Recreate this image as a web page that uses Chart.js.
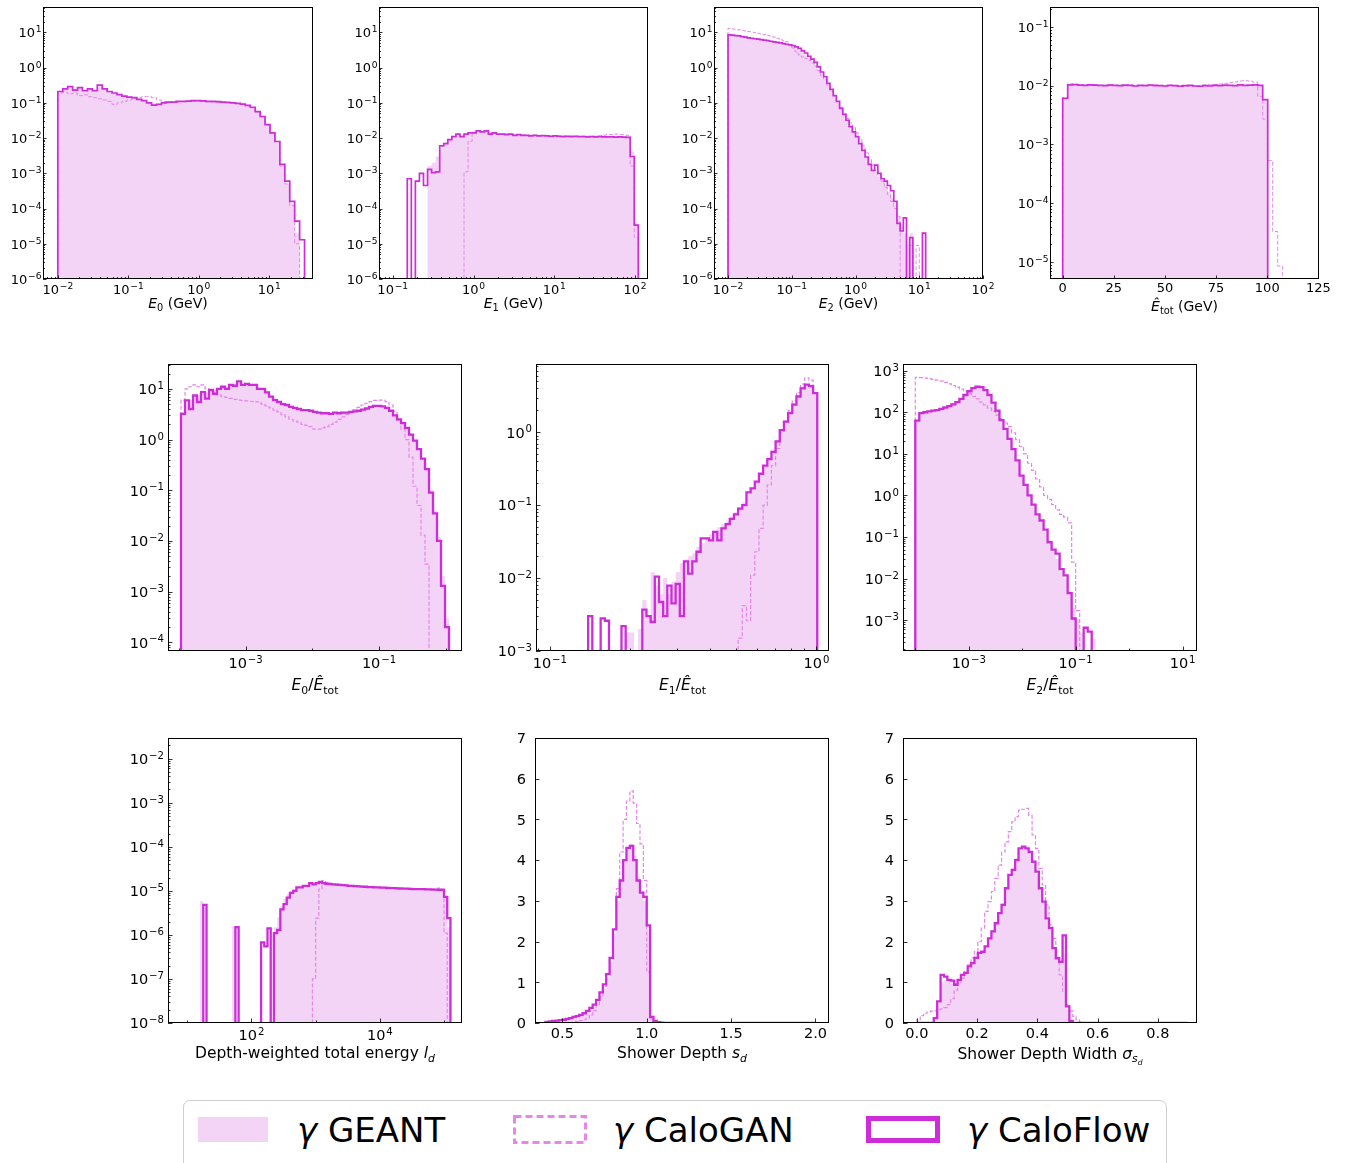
<!DOCTYPE html>
<html>
<head>
<meta charset="utf-8">
<title>Shower observables: GEANT, CaloGAN, CaloFlow</title>
<script src="https://cdn.jsdelivr.net/npm/chart.js@4.4.1/dist/chart.umd.min.js"></script>
<style>
  body { margin: 0; background: #fff; font-family: "DejaVu Sans", sans-serif; }
  #page { position: relative; width: 1351px; height: 1163px; overflow: hidden; background: #fff; }
  #page canvas { position: absolute; }
  .xlab { position: absolute; transform: translate(-50%, -50%); white-space: nowrap; color: #000; line-height: 1; }
  .xlab sub { font-size: 70%; vertical-align: -0.3em; line-height: 0; }
  #legend { position: absolute; left: 183px; top: 1100px; width: 982px; height: 80px;
            border: 1.5px solid #cfcfcf; border-radius: 7px; background: #fff; }
  #legend svg { position: absolute; }
  #legend .lt { position: absolute; top: 12px; font-size: 34px; line-height: 34px; white-space: nowrap; color: #000; }
</style>
</head>
<body>
<div id="page">
  <div id="legend">
    <svg style="left:13px;top:15px" width="72" height="27"><rect x="1" y="1" width="70" height="25" fill="#f4d4f6"/></svg>
    <div class="lt" style="left:113px"><i>γ</i> GEANT</div>
    <svg style="left:329px;top:14px" width="74" height="29"><rect x="1.5" y="1.5" width="71" height="26" fill="none" stroke="#e487e8" stroke-width="3" stroke-dasharray="7 4"/></svg>
    <div class="lt" style="left:429px"><i>γ</i> CaloGAN</div>
    <svg style="left:682px;top:15px" width="74" height="27"><rect x="2.5" y="2.5" width="69" height="22" fill="none" stroke="#cd2cd8" stroke-width="5"/></svg>
    <div class="lt" style="left:783px"><i>γ</i> CaloFlow</div>
  </div>
</div>
<script>
// ---- binning: [log10(lo) or lo, log10(hi) or hi, number of bins] ----
const e0Bins = [-2, 1.5, 50];
const e1Bins = [-0.82, 2.04, 57];
const e2Bins = [-2, 1.1, 62];
const etotBins = [0, 110, 45];
const e0rBins = [-3.97, 0.05, 67];
const e1rBins = [-0.997, 0.003, 64];
const e2rBins = [-4, -0.55, 46];
const idBins = [1.2, 5.1, 78];
const sdBins = [0.4, 2.0, 80];
const sigBins = [0, 0.9, 80];

// ---- E0 (GeV) ----
const e0Geant = [0.2, 0.24, 0.27, 0.25, 0.26, 0.24, 0.25, 0.23, 0.28, 0.24,
  0.21, 0.19, 0.175, 0.16, 0.15, 0.14, 0.13, 0.12, 0.105, 0.095,
  0.095, 0.1, 0.105, 0.107, 0.11, 0.11, 0.112, 0.114, 0.115, 0.112,
  0.11, 0.11, 0.107, 0.105, 0.102, 0.1, 0.096, 0.09, 0.083, 0.072,
  0.055, 0.04, 0.024, 0.013, 0.0075, 0.0019, 5e-4, 1.4e-4, 2e-5, 0];
const e0CaloGAN = [0.19, 0.2, 0.18, 0.19, 0.16, 0.17, 0.15, 0.14, 0.13, 0.12,
  0.11, 0.09, 0.1, 0.11, 0.12, 0.13, 0.14, 0.15, 0.15, 0.14,
  0.12, 0.11, 0.105, 0.105, 0.105, 0.11, 0.11, 0.11, 0.11, 0.108,
  0.106, 0.105, 0.104, 0.102, 0.1, 0.099, 0.095, 0.09, 0.083, 0.073,
  0.056, 0.04, 0.024, 0.014, 0.008, 0.0016, 5e-4, 1.2e-4, 1e-5, 0];
const e0CaloFlow = [0.21, 0.25, 0.29, 0.23, 0.27, 0.22, 0.25, 0.22, 0.32, 0.25,
  0.21, 0.19, 0.17, 0.155, 0.145, 0.14, 0.125, 0.115, 0.1, 0.086,
  0.09, 0.1, 0.105, 0.105, 0.11, 0.11, 0.112, 0.115, 0.115, 0.113,
  0.11, 0.11, 0.108, 0.105, 0.103, 0.1, 0.097, 0.092, 0.085, 0.075,
  0.056, 0.041, 0.024, 0.014, 0.008, 0.0018, 6e-4, 1.6e-4, 4.4e-5, 1.3e-5];

// ---- E1 (GeV) ----
const e1Geant = [0, 0, 0, 0, 0, 1.6e-3, 2e-3, 3e-3, 5e-3, 7.5e-3,
  9.5e-3, 0.011, 0.012, 0.012, 0.013, 0.014, 0.015, 0.015, 0.015, 0.015,
  0.014, 0.014, 0.0135, 0.013, 0.013, 0.0128, 0.0125, 0.0123, 0.012, 0.012,
  0.0118, 0.0118, 0.0116, 0.0115, 0.0115, 0.0113, 0.0113, 0.0112, 0.0111, 0.0111,
  0.011, 0.011, 0.011, 0.0109, 0.0109, 0.0108, 0.0108, 0.0108, 0.0108, 0.0107,
  0.0107, 0.0107, 0.011, 0.0112, 0.011, 4e-3, 4e-5];
const e1CaloGAN = [0, 0, 0, 0, 0, 0, 0, 0, 0, 0,
  0, 0, 0, 0, 1.1e-3, 8e-3, 0.014, 0.015, 0.016, 0.015,
  0.014, 0.0135, 0.013, 0.013, 0.013, 0.0128, 0.0125, 0.0125, 0.0123, 0.0122,
  0.012, 0.012, 0.0118, 0.0118, 0.0117, 0.0116, 0.0116, 0.0115, 0.0115, 0.0114,
  0.0114, 0.0113, 0.0113, 0.0113, 0.0112, 0.0112, 0.0113, 0.0115, 0.012, 0.0125,
  0.0125, 0.013, 0.0125, 0.0125, 0.012, 1.6e-3, 1.5e-5];
const e1CaloFlow = [7e-4, 0, 6e-4, 1e-3, 4.5e-4, 1.3e-3, 1.05e-3, 1.1e-3, 6e-3, 7e-3,
  9e-3, 0.011, 0.013, 0.011, 0.013, 0.014, 0.014, 0.016, 0.015, 0.016,
  0.013, 0.014, 0.013, 0.013, 0.0125, 0.013, 0.012, 0.0125, 0.012, 0.012,
  0.0115, 0.012, 0.0115, 0.0118, 0.0115, 0.0112, 0.0115, 0.0112, 0.011, 0.0112,
  0.011, 0.0112, 0.011, 0.011, 0.0108, 0.011, 0.0108, 0.011, 0.0108, 0.0108,
  0.0108, 0.0107, 0.0108, 0.0106, 0.0105, 3e-3, 3.4e-5];

// ---- E2 (GeV) ----
const e2Geant = [8.3, 8.2, 8.0, 7.8, 7.5, 7.2, 7.0, 6.8, 6.6, 6.4,
  6.2, 6.0, 5.8, 5.6, 5.4, 5.2, 5.0, 4.8, 4.5, 4.2,
  3.9, 3.5, 3.0, 2.6, 2.2, 1.8, 1.5, 1.2, 0.9, 0.65,
  0.48, 0.33, 0.22, 0.15, 0.1, 0.068, 0.046, 0.031, 0.021, 0.015,
  0.0105, 0.007, 0.0046, 0.003, 0.0019, 0.0013, 0.0011, 8e-4, 6e-4, 4.5e-4,
  3e-4, 2e-4, 1.2e-4, 6e-5, 3e-5, 2e-5, 1e-5, 2e-5, 0, 0, 0, 0];
const e2CaloGAN = [13, 12.6, 12.2, 11.8, 11.4, 11.0, 10.6, 10.2, 9.8, 9.4,
  9.0, 8.6, 8.2, 7.8, 7.3, 6.8, 6.3, 5.8, 5.4, 4.5,
  3.6, 2.8, 2.3, 2.0, 1.8, 1.6, 1.35, 1.1, 0.82, 0.6,
  0.45, 0.32, 0.23, 0.16, 0.11, 0.075, 0.05, 0.036, 0.027, 0.02,
  0.014, 0.0095, 0.006, 0.0038, 0.0025, 0.0017, 0.0012, 9e-4, 6e-4, 4e-4,
  2.5e-4, 1.6e-4, 1e-4, 6e-5, 0, 0, 0, 9e-6, 0, 9e-6, 0, 0];
const e2CaloFlow = [8.5, 8.3, 8.1, 7.9, 7.6, 7.3, 7.0, 6.8, 6.6, 6.4,
  6.2, 6.0, 5.8, 5.6, 5.4, 5.2, 5.0, 4.8, 4.6, 4.4,
  4.2, 3.9, 3.5, 3.0, 2.6, 2.1, 1.75, 1.4, 1.05, 0.75,
  0.55, 0.36, 0.24, 0.16, 0.11, 0.07, 0.047, 0.032, 0.021, 0.015,
  0.011, 0.007, 0.0045, 0.0029, 0.0018, 0.0012, 0.0017, 0.001, 7e-4, 6e-4,
  4.5e-4, 3.2e-4, 1.6e-4, 3.8e-5, 2.3e-5, 5.4e-5, 0, 1.5e-5, 0, 0, 0, 2e-5];

// ---- total energy (GeV) ----
const etotGeant = [6.0e-3, 0.0101, 0.0102, 0.0101, 0.0102, 0.0101, 0.01, 0.0102, 0.0101, 0.01,
  0.0102, 0.0101, 0.01, 0.0101, 0.0101, 0.01, 0.0102, 0.01, 0.0101, 0.0101,
  0.01, 0.01, 0.0101, 0.01, 0.0099, 0.01, 0.0101, 0.0099, 0.01, 0.0101,
  0.01, 0.0101, 0.0101, 0.01, 0.0102, 0.0101, 0.0101, 0.0102, 0.0101, 0.0101,
  5.9e-3, 0, 0, 0, 0];
const etotCaloGAN = [6.3e-3, 0.0108, 0.0106, 0.0104, 0.0103, 0.0102, 0.0104, 0.0101, 0.0102, 0.0103,
  0.0101, 0.0102, 0.01, 0.0103, 0.0101, 0.01, 0.0102, 0.0101, 0.0099, 0.0101,
  0.01, 0.0102, 0.0099, 0.0101, 0.0098, 0.0097, 0.0099, 0.0101, 0.0103, 0.0104,
  0.0105, 0.0107, 0.011, 0.0113, 0.0116, 0.012, 0.0122, 0.012, 0.0115,
  6.6e-3, 2.7e-3, 5.3e-4, 3.3e-5, 8.5e-6, 0];
const etotCaloFlow = [6.1e-3, 0.0103, 0.0104, 0.0102, 0.0101, 0.0103, 0.0102, 0.0101, 0.01, 0.0102,
  0.0101, 0.01, 0.0102, 0.0101, 0.0099, 0.0101, 0.01, 0.0102, 0.0101, 0.01,
  0.0099, 0.0101, 0.01, 0.0098, 0.01, 0.0101, 0.0099, 0.0098, 0.01, 0.0099,
  0.0101, 0.01, 0.0102, 0.0101, 0.01, 0.0103, 0.0101, 0.0102, 0.0103, 0.0101,
  5.8e-3, 0, 0, 0, 0];

// ---- E0 / Etot ----
const e0rGeant = [3.5, 5, 6, 7, 7.5, 8, 8.5, 9, 9.5, 10,
  11, 11, 12, 12, 13, 12.5, 12, 12, 11.5, 10.5,
  9.5, 8.5, 7.3, 6.3, 5.6, 5.1, 4.8, 4.4, 4.2, 4.0,
  3.8, 3.7, 3.6, 3.5, 3.4, 3.3, 3.3, 3.3, 3.3, 3.3,
  3.4, 3.4, 3.5, 3.6, 3.8, 3.9, 4.1, 4.3, 4.5, 4.6,
  4.5, 4.2, 3.7, 3.0, 2.5, 2.1, 1.7, 1.3, 0.95, 0.65,
  0.42, 0.26, 0.1, 0.04, 0.012, 2e-3, 3e-4];
const e0rCaloGAN = [6, 10, 11, 12, 11, 12, 10, 9.5, 8.5, 7.5,
  7, 6.8, 6.5, 6.2, 6, 5.9, 5.8, 5.7, 5.6, 5.5,
  5.0, 4.6, 4.2, 3.8, 3.5, 3.1, 2.8, 2.5, 2.3, 2.2,
  2.0, 1.9, 1.8, 1.6, 1.6, 1.7, 1.8, 2.0, 2.2, 2.5,
  2.8, 3.1, 3.5, 3.9, 4.3, 4.8, 5.2, 5.6, 5.9, 6.0,
  6.0, 5.6, 4.8, 3.6, 2.4, 1.6, 1.0, 0.45, 0.12, 0.05,
  0.013, 3.5e-3, 0, 0, 0, 0, 0];
const e0rCaloFlow = [3.2, 5.9, 4.0, 7.4, 5.5, 8.6, 6.4, 9.5, 8.0, 10,
  11, 10, 12, 11.5, 14, 12, 12.5, 12, 12, 10,
  10, 8.5, 7, 6, 5.5, 5, 4.8, 4.4, 4.2, 4.0,
  3.8, 3.8, 3.7, 3.5, 3.4, 3.3, 3.3, 3.2, 3.4, 3.3,
  3.4, 3.4, 3.5, 3.6, 3.7, 3.9, 4.1, 4.4, 4.6, 4.6,
  4.5, 4.2, 3.7, 3.0, 2.5, 2.1, 1.7, 1.25, 0.95, 0.65,
  0.42, 0.26, 0.09, 0.035, 0.01, 1.3e-3, 2e-4];

// ---- E1 / Etot ----
const e1rGeant = [0, 0, 0, 0, 0, 0, 0, 0, 0, 0,
  0, 0, 0, 0, 0, 0, 0, 0, 1.8e-3, 1.8e-3,
  0, 2e-3, 5e-3, 3e-3, 0.012, 0.008, 6e-3, 0.01, 6e-3, 9e-3,
  0.012, 0.016, 0.018, 0.02, 0.022, 0.027, 0.03, 0.035, 0.04, 0.045,
  0.05, 0.055, 0.06, 0.07, 0.08, 0.095, 0.11, 0.14, 0.17, 0.21,
  0.27, 0.35, 0.45, 0.58, 0.78, 1.08, 1.45, 1.9, 2.5, 3.2,
  4.0, 4.4, 4.4, 3.6];
const e1rCaloGAN = [0, 0, 0, 0, 0, 0, 0, 0, 0, 0,
  0, 0, 0, 0, 0, 0, 0, 0, 0, 0,
  0, 0, 0, 0, 0, 0, 0, 0, 0, 0,
  0, 0, 0, 0, 0, 0, 0, 0, 0, 0,
  0, 0, 0, 0, 0, 1.5e-3, 4.2e-3, 2.6e-3, 0.011, 0.023,
  0.048, 0.1, 0.19, 0.35, 0.6, 1.0, 1.4, 2.0, 2.7, 3.5,
  4.6, 5.6, 5.2, 3.5];
const e1rCaloFlow = [0, 0, 0, 0, 0, 0, 0, 0, 0, 3e-3,
  0, 0, 2.8e-3, 2.6e-3, 0, 0, 0, 2.2e-3, 0, 0,
  0, 0, 3.7e-3, 3e-3, 2.5e-3, 0.0105, 4.7e-3, 3e-3, 7.9e-3, 4.5e-3,
  8.3e-3, 3e-3, 0.017, 0.0115, 0.017, 0.023, 0.035, 0.035, 0.033, 0.043,
  0.033, 0.048, 0.055, 0.065, 0.075, 0.09, 0.1, 0.15, 0.17, 0.21,
  0.27, 0.35, 0.43, 0.54, 0.75, 1.07, 1.4, 1.83, 2.4, 3.1,
  4.0, 4.5, 4.3, 3.45];

// ---- E2 / Etot ----
const e2rGeant = [60, 90, 100, 105, 110, 115, 120, 130, 145, 160,
  180, 215, 265, 325, 385, 420, 410, 345, 255, 165,
  105, 62, 38, 22, 12.5, 6.5, 3.0, 1.7, 0.95, 0.55,
  0.33, 0.22, 0.13, 0.07, 0.045, 0.03, 0.015, 0.01, 5e-3, 2e-3,
  1e-3, 5e-4, 0, 0, 3.6e-4, 0];
const e2rCaloGAN = [690, 680, 660, 640, 620, 590, 560, 520, 480, 440,
  400, 360, 320, 280, 240, 210, 175, 150, 125, 105,
  85, 70, 55, 45, 32, 22, 15, 10, 6, 4,
  2.5, 1.6, 1.0, 0.8, 0.6, 0.45, 0.35, 0.3, 0.22, 0.025,
  1.7e-3, 0, 0, 0, 0, 0];
const e2rCaloFlow = [63, 95, 100, 105, 110, 112, 120, 130, 140, 155,
  175, 210, 260, 320, 380, 410, 400, 340, 260, 170,
  110, 65, 40, 23, 13, 7, 3.0, 1.8, 1.0, 0.6,
  0.35, 0.25, 0.15, 0.075, 0.05, 0.04, 0.017, 0.012, 4.5e-3, 1.1e-3,
  0, 0, 6.6e-4, 5.3e-4, 0, 0];

// ---- depth-weighted total energy ----
const idGeant = [5.9e-6, 0, 0, 0, 0, 0, 0, 0, 0, 0,
  1.6e-6, 0, 0, 0, 0, 0, 0, 0, 0, 0,
  0, 0, 0, 1.5e-6, 2.5e-6, 4.5e-6, 6.5e-6, 8.5e-6, 1.0e-5, 1.1e-5,
  1.2e-5, 1.25e-5, 1.3e-5, 1.35e-5, 1.4e-5, 1.45e-5, 1.5e-5, 1.5e-5, 1.45e-5, 1.45e-5,
  1.42e-5, 1.4e-5, 1.38e-5, 1.36e-5, 1.34e-5, 1.32e-5, 1.3e-5, 1.29e-5, 1.28e-5, 1.26e-5,
  1.25e-5, 1.23e-5, 1.22e-5, 1.21e-5, 1.2e-5, 1.19e-5, 1.18e-5, 1.17e-5, 1.16e-5, 1.15e-5,
  1.14e-5, 1.14e-5, 1.13e-5, 1.12e-5, 1.12e-5, 1.11e-5, 1.1e-5, 1.1e-5, 1.1e-5, 1.09e-5,
  1.09e-5, 1.08e-5, 1.08e-5, 1.07e-5, 1.07e-5, 1.06e-5, 7e-6, 1.5e-6];
const idCaloGAN = [0, 0, 0, 0, 0, 0, 0, 0, 0, 0,
  0, 0, 0, 0, 0, 0, 0, 0, 0, 0,
  0, 0, 0, 0, 0, 0, 0, 0, 0, 0,
  0, 0, 0, 0, 0, 1e-7, 2.4e-6, 1.1e-5, 1.7e-5, 1.55e-5,
  1.5e-5, 1.45e-5, 1.42e-5, 1.4e-5, 1.38e-5, 1.35e-5, 1.33e-5, 1.3e-5, 1.3e-5, 1.28e-5,
  1.27e-5, 1.25e-5, 1.24e-5, 1.22e-5, 1.21e-5, 1.2e-5, 1.2e-5, 1.18e-5, 1.17e-5, 1.16e-5,
  1.15e-5, 1.15e-5, 1.14e-5, 1.13e-5, 1.12e-5, 1.12e-5, 1.11e-5, 1.11e-5, 1.1e-5, 1.1e-5,
  1.1e-5, 1.09e-5, 1.1e-5, 1.12e-5, 1.15e-5, 1.1e-5, 1.1e-6, 0];
const idCaloFlow = [0, 4.8e-6, 0, 0, 0, 0, 0, 0, 0, 0,
  0, 1.5e-6, 0, 0, 0, 0, 0, 0, 0, 6.8e-7,
  5.5e-7, 1.4e-6, 0, 1.1e-6, 1.3e-6, 3.8e-6, 5e-6, 7e-6, 9e-6, 1.0e-5,
  1.2e-5, 1.2e-5, 1.3e-5, 1.3e-5, 1.5e-5, 1.4e-5, 1.5e-5, 1.6e-5, 1.5e-5, 1.45e-5,
  1.42e-5, 1.4e-5, 1.38e-5, 1.36e-5, 1.35e-5, 1.33e-5, 1.3e-5, 1.3e-5, 1.28e-5, 1.27e-5,
  1.25e-5, 1.24e-5, 1.22e-5, 1.22e-5, 1.2e-5, 1.2e-5, 1.18e-5, 1.18e-5, 1.16e-5, 1.15e-5,
  1.15e-5, 1.14e-5, 1.13e-5, 1.12e-5, 1.12e-5, 1.11e-5, 1.1e-5, 1.1e-5, 1.1e-5, 1.09e-5,
  1.08e-5, 1.08e-5, 1.07e-5, 1.07e-5, 1.06e-5, 1.05e-5, 7.3e-6, 2.4e-6];

// ---- shower depth (bins past the last listed value are empty) ----
const sdGeant = [0.03, 0.04, 0.05, 0.06, 0.07, 0.08, 0.09, 0.11, 0.13, 0.15,
  0.18, 0.22, 0.27, 0.33, 0.4, 0.5, 0.66, 0.85, 1.1, 1.5,
  2.2, 3.0, 3.5, 4.0, 4.3, 4.4, 4.1, 3.6, 3.2, 3.0,
  2.3, 0.2, 0.05, 0.02, 0.01, 0.005];
const sdCaloGAN = [0, 0, 0, 0, 0, 0, 0, 0, 0.02, 0.04,
  0.06, 0.08, 0.12, 0.2, 0.3, 0.45, 0.65, 0.9, 1.2, 1.6,
  2.3, 3.3, 4.2, 5.0, 5.45, 5.7, 5.4, 4.9, 4.4, 3.5,
  1.25, 0.1, 0.02];
const sdCaloFlow = [0.03, 0.04, 0.05, 0.06, 0.07, 0.08, 0.1, 0.12, 0.15, 0.17,
  0.2, 0.24, 0.3, 0.37, 0.45, 0.57, 0.75, 0.95, 1.2, 1.6,
  2.3, 3.1, 3.5, 4.0, 4.3, 4.35, 4.0, 3.5, 3.2, 3.1,
  2.4, 0.15, 0.05, 0.02, 0.01, 0.005];

// ---- shower depth width ----
const sigGeant = [0, 0, 0, 0, 0.02, 0.1, 0.45, 1.0, 1.05, 1.02,
  1.0, 0.98, 1.05, 1.15, 1.22, 1.35, 1.45, 1.58, 1.7, 1.78,
  1.9, 2.1, 2.28, 2.5, 2.72, 2.95, 3.3, 3.6, 3.8, 4.05,
  4.25, 4.35, 4.3, 4.15, 3.9, 3.65, 3.3, 2.95, 2.55, 2.3,
  1.85, 1.6, 1.5, 1.7, 0.35, 0.04];
const sigCaloGAN = [0.08, 0.18, 0.24, 0.27, 0.29, 0.3, 0.33, 0.35, 0.38, 0.45,
  0.6, 0.8, 0.97, 1.1, 1.27, 1.43, 1.6, 1.76, 2.0, 2.33,
  2.74, 2.98, 3.23, 3.55, 3.88, 4.2, 4.45, 4.7, 4.94, 5.07,
  5.23, 5.25, 5.27, 5.1, 4.62, 4.29, 3.8, 3.39, 2.9, 2.41,
  2.08, 1.6, 1.18, 0.78, 0.45, 0.29, 0.16, 0.08, 0.03];
const sigCaloFlow = [0, 0, 0, 0, 0, 0.12, 0.53, 1.18, 1.14, 1.06,
  1.04, 0.94, 1.06, 1.18, 1.23, 1.39, 1.47, 1.6, 1.72, 1.75,
  1.88, 2.08, 2.25, 2.45, 2.7, 2.9, 3.31, 3.64, 3.76, 4.0,
  4.29, 4.33, 4.29, 4.2, 3.96, 3.72, 3.31, 2.98, 2.57, 2.33,
  1.84, 1.59, 1.5, 2.15, 0.41, 0.05];

// ---- tick values ----
const decadeTicks6to1 = [1e-6, 1e-5, 1e-4, 1e-3, 1e-2, 1e-1, 1, 10];
const e0XTicks = [1e-2, 1e-1, 1, 10];
const e1XTicks = [1e-1, 1, 10, 100];
const e2XTicks = [1e-2, 1e-1, 1, 10, 100];
const etotXTicks = [0, 25, 50, 75, 100, 125];
const etotYTicks = [1e-5, 1e-4, 1e-3, 1e-2, 1e-1];
const e0rXTicks = [1e-3, 1e-1];
const e0rYTicks = [1e-4, 1e-3, 1e-2, 1e-1, 1, 10];
const e1rXTicks = [1e-1, 1];
const e1rYTicks = [1e-3, 1e-2, 1e-1, 1];
const e2rXTicks = [1e-3, 1e-1, 10];
const e2rYTicks = [1e-3, 1e-2, 1e-1, 1, 10, 100, 1000];
const idXTicks = [1e2, 1e4];
const idYTicks = [1e-8, 1e-7, 1e-6, 1e-5, 1e-4, 1e-3, 1e-2];
const sdXTicks = [0.5, 1.0, 1.5, 2.0];
const sigXTicks = [0.0, 0.2, 0.4, 0.6, 0.8];
const densityTicks = [0, 1, 2, 3, 4, 5, 6, 7];

// ---- styling ----
const GEANT_FILL = '#f4d4f6';
const GAN_LINE = '#e487e8';
const FLOW_LINE = '#cd2cd8';
const FONT = 'DejaVu Sans';

// tick label pieces: base text plus an optional raised exponent
const pow10 = v => ({ base: '10', exp: String(Math.round(Math.log10(v))).replace('-', '\u2212') });
const plain = v => ({ base: String(v), exp: '' });
const oneDec = v => ({ base: v.toFixed(1), exp: '' });

function logEdges(lo, hi, n) {
  const out = [];
  for (let k = 0; k <= n; k++) out.push(Math.pow(10, lo + (hi - lo) * k / n));
  return out;
}
function linEdges(lo, hi, n) {
  const out = [];
  for (let k = 0; k <= n; k++) out.push(lo + (hi - lo) * k / n);
  return out;
}

// minor ticks: 2..9 per decade, or the skipped decades when majors step by more than one
function logMinor(min, max, majors) {
  const out = [];
  const stride = majors.length > 1 ? Math.round(Math.log10(majors[1] / majors[0])) : 1;
  for (let k = Math.floor(Math.log10(min)); k <= Math.ceil(Math.log10(max)); k++) {
    if (stride === 1) {
      for (let m = 2; m <= 9; m++) out.push(m * Math.pow(10, k));
    } else if (!majors.some(v => Math.abs(Math.log10(v) - k) < 1e-6)) {
      out.push(Math.pow(10, k));
    }
  }
  return out.filter(v => v >= min && v <= max);
}

// step outline of a histogram, dropping to the floor at both ends and at empty bins
function histPoints(edges, values, floor) {
  const n = edges.length - 1;
  const val = i => (values[i] > 0 ? values[i] : floor);
  const pts = [{ x: edges[0], y: floor }];
  for (let i = 0; i < n; i++) pts.push({ x: edges[i], y: val(i) });
  pts.push({ x: edges[n], y: val(n - 1) });
  pts.push({ x: edges[n], y: floor });
  return pts;
}

// draws "10" with a smaller raised exponent; x-axis labels hang from y, y-axis labels centre on y
function drawTickLabel(ctx, lab, f, x, y, onXAxis) {
  const fs = f * 0.7, kern = lab.exp ? 0.06 * f : 0;
  ctx.font = f + 'px "' + FONT + '"';
  const wb = ctx.measureText(lab.base).width;
  let we = 0;
  if (lab.exp) { ctx.font = fs + 'px "' + FONT + '"'; we = ctx.measureText(lab.exp).width; }
  const w = wb + kern + we;
  const left = onXAxis ? x - w / 2 : x - w;
  const baseline = onXAxis ? y + (lab.exp ? 0.86 : 0.74) * f : y + 0.365 * f;
  ctx.fillStyle = '#000';
  ctx.textAlign = 'left';
  ctx.textBaseline = 'alphabetic';
  ctx.font = f + 'px "' + FONT + '"';
  ctx.fillText(lab.base, left, baseline);
  if (lab.exp) {
    ctx.font = fs + 'px "' + FONT + '"';
    ctx.fillText(lab.exp, left + wb + kern, baseline - 0.36 * f);
  }
}

// axes frame, inward tick marks and tick labels, drawn over the histograms
const framePlugin = {
  id: 'frame',
  afterDatasetsDraw(chart, args, o) {
    const { ctx, chartArea: a } = chart;
    const xs = chart.scales.x, ys = chart.scales.y;
    const inRange = (s, v) => v >= s.min * (1 - 1e-9) - 1e-12 && v <= s.max * (1 + 1e-9) + 1e-12;
    const pix = (s, v) => Math.round(s.getPixelForValue(v)) + 0.5;
    ctx.save();
    ctx.strokeStyle = '#000';
    ctx.lineWidth = 0.8;
    const mark = (scale, vals, len) => vals.forEach(v => {
      if (!inRange(scale, v)) return;
      const p = pix(scale, v);
      ctx.beginPath();
      if (scale.isHorizontal()) { ctx.moveTo(p, a.bottom); ctx.lineTo(p, a.bottom - len); }
      else { ctx.moveTo(a.left, p); ctx.lineTo(a.left + len, p); }
      ctx.stroke();
    });
    mark(xs, o.xMajor, o.major);
    mark(ys, o.yMajor, o.major);
    mark(xs, o.xMinor, o.minor);
    mark(ys, o.yMinor, o.minor);
    ctx.lineWidth = 1;
    ctx.strokeRect(a.left + 0.5, a.top + 0.5, a.right - a.left - 1, a.bottom - a.top - 1);

    o.xMajor.forEach(v => {
      if (inRange(xs, v)) drawTickLabel(ctx, o.xFmt(v), o.font, xs.getPixelForValue(v), a.bottom + o.gapX, true);
    });
    o.yMajor.forEach(v => {
      if (!inRange(ys, v)) return;
      const lab = o.yFmt(v);
      drawTickLabel(ctx, lab, o.font, a.left - (lab.exp ? o.gapY : o.gapYPlain), ys.getPixelForValue(v), false);
    });
    ctx.restore();
  }
};

const small = { font: 13, major: 3.5, minor: 2, gapX: 3.5, gapY: 1.5, gapYPlain: 4, lw: 1.7, dash: 1, title: 14 };
const large = { font: 14.5, major: 4.5, minor: 2.5, gapX: 4.5, gapY: 4, gapYPlain: 9, lw: 2.3, dash: 1.2, title: 15.5 };

const panels = [
  { box: [43, 7, 313, 279], st: small, bins: e0Bins,
    x: { log: true, min: Math.pow(10, -2.21), max: Math.pow(10, 1.62), ticks: e0XTicks, fmt: pow10 },
    y: { log: true, min: 1e-6, max: Math.pow(10, 1.72), ticks: decadeTicks6to1, fmt: pow10 },
    data: [e0Geant, e0CaloGAN, e0CaloFlow],
    title: '<i>E</i><sub>0</sub> (GeV)', titleY: 303 },
  { box: [379, 7, 648, 279], st: small, bins: e1Bins,
    x: { log: true, min: Math.pow(10, -1.17), max: Math.pow(10, 2.16), ticks: e1XTicks, fmt: pow10 },
    y: { log: true, min: 1e-6, max: Math.pow(10, 1.72), ticks: decadeTicks6to1, fmt: pow10 },
    data: [e1Geant, e1CaloGAN, e1CaloFlow],
    title: '<i>E</i><sub>1</sub> (GeV)', titleY: 303 },
  { box: [714, 7, 983, 279], st: small, bins: e2Bins,
    x: { log: true, min: Math.pow(10, -2.22), max: 100, ticks: e2XTicks, fmt: pow10 },
    y: { log: true, min: 1e-6, max: Math.pow(10, 1.72), ticks: decadeTicks6to1, fmt: pow10 },
    data: [e2Geant, e2CaloGAN, e2CaloFlow],
    title: '<i>E</i><sub>2</sub> (GeV)', titleY: 303 },
  { box: [1050, 7, 1319, 279], st: small, bins: etotBins,
    x: { log: false, min: -6.2, max: 125.3, ticks: etotXTicks, fmt: plain },
    y: { log: true, min: Math.pow(10, -5.29), max: Math.pow(10, -0.66), ticks: etotYTicks, fmt: pow10 },
    data: [etotGeant, etotCaloGAN, etotCaloFlow],
    title: '<i>Ê</i><sub>tot</sub> (GeV)', titleY: 306 },
  { box: [168, 364, 462, 651], st: large, bins: e0rBins,
    x: { log: true, min: Math.pow(10, -4.165), max: Math.pow(10, 0.245), ticks: e0rXTicks, fmt: pow10 },
    y: { log: true, min: Math.pow(10, -4.17), max: Math.pow(10, 1.49), ticks: e0rYTicks, fmt: pow10 },
    data: [e0rGeant, e0rCaloGAN, e0rCaloFlow],
    title: '<i>E</i><sub>0</sub>/<i>Ê</i><sub>tot</sub>', titleY: 686 },
  { box: [536, 364, 829, 651], st: large, bins: e1rBins,
    x: { log: true, min: Math.pow(10, -1.052), max: Math.pow(10, 0.047), ticks: e1rXTicks, fmt: pow10 },
    y: { log: true, min: 1e-3, max: Math.pow(10, 0.937), ticks: e1rYTicks, fmt: pow10 },
    data: [e1rGeant, e1rCaloGAN, e1rCaloFlow],
    title: '<i>E</i><sub>1</sub>/<i>Ê</i><sub>tot</sub>', titleY: 686 },
  { box: [903, 364, 1197, 651], st: large, bins: e2rBins,
    x: { log: true, min: Math.pow(10, -4.23), max: Math.pow(10, 1.27), ticks: e2rXTicks, fmt: pow10 },
    y: { log: true, min: Math.pow(10, -3.74), max: Math.pow(10, 3.16), ticks: e2rYTicks, fmt: pow10 },
    data: [e2rGeant, e2rCaloGAN, e2rCaloFlow],
    title: '<i>E</i><sub>2</sub>/<i>Ê</i><sub>tot</sub>', titleY: 686 },
  { box: [168, 738, 462, 1023], st: large, bins: idBins,
    x: { log: true, min: Math.pow(10, 0.7), max: Math.pow(10, 5.28), ticks: idXTicks, fmt: pow10 },
    y: { log: true, min: 1e-8, max: Math.pow(10, -1.53), ticks: idYTicks, fmt: pow10 },
    data: [idGeant, idCaloGAN, idCaloFlow],
    title: 'Depth-weighted total energy <i>l</i><sub><i>d</i></sub>', titleY: 1054 },
  { box: [535, 738, 829, 1023], st: large, bins: sdBins,
    x: { log: false, min: 0.338, max: 2.08, ticks: sdXTicks, fmt: oneDec },
    y: { log: false, min: 0, max: 7, ticks: densityTicks, fmt: plain },
    data: [sdGeant, sdCaloGAN, sdCaloFlow],
    title: 'Shower Depth <i>s</i><sub><i>d</i></sub>', titleY: 1054 },
  { box: [903, 738, 1197, 1023], st: large, bins: sigBins,
    x: { log: false, min: -0.046, max: 0.93, ticks: sigXTicks, fmt: oneDec },
    y: { log: false, min: 0, max: 7, ticks: densityTicks, fmt: plain },
    data: [sigGeant, sigCaloGAN, sigCaloFlow],
    title: 'Shower Depth Width <i>σ</i><sub><i>s</i><sub><i>d</i></sub></sub>', titleY: 1055 }
];

const page = document.getElementById('page');
const PAD_L = 52, PAD_T = 12, PAD_R = 24, PAD_B = 36, Y_W = 44, X_H = 30;

function axis(a, horizontal) {
  return {
    type: a.log ? 'logarithmic' : 'linear',
    min: a.min,
    max: a.max,
    grid: { display: false, drawTicks: false },
    border: { display: false },
    ticks: { display: false },
    afterBuildTicks: s => { s.ticks = a.ticks.map(v => ({ value: v })); },
    afterFit: s => {
      if (horizontal) { s.height = X_H; s.paddingLeft = 0; s.paddingRight = 0; }
      else { s.width = Y_W; s.paddingTop = 0; s.paddingBottom = 0; }
    }
  };
}

function buildPanel(p) {
  const [x0, y0, x1, y1] = p.box;
  const st = p.st;
  const cv = document.createElement('canvas');
  cv.width = x1 - x0 + PAD_L + PAD_R;
  cv.height = y1 - y0 + PAD_T + PAD_B;
  cv.style.left = (x0 - PAD_L) + 'px';
  cv.style.top = (y0 - PAD_T) + 'px';
  page.appendChild(cv);

  const edges = p.x.log ? logEdges(...p.bins) : linEdges(...p.bins);
  const floor = p.y.log ? p.y.min * 1e-4 : 0;
  const [geant, gan, flow] = p.data;
  const line = { stepped: true, pointRadius: 0, pointHoverRadius: 0, tension: 0 };

  new Chart(cv, {
    type: 'line',
    data: {
      datasets: [
        Object.assign({ label: '\u03b3 CaloFlow', data: histPoints(edges, flow, floor),
          borderColor: FLOW_LINE, borderWidth: st.lw, fill: false }, line),
        Object.assign({ label: '\u03b3 CaloGAN', data: histPoints(edges, gan, floor),
          borderColor: GAN_LINE, borderWidth: st.dash, borderDash: [4, 2], fill: false }, line),
        Object.assign({ label: '\u03b3 GEANT', data: histPoints(edges, geant, floor),
          borderColor: 'rgba(0,0,0,0)', borderWidth: 0, backgroundColor: GEANT_FILL, fill: 'start' }, line)
      ]
    },
    options: {
      responsive: false,
      animation: false,
      events: [],
      devicePixelRatio: 1,
      layout: { padding: { left: PAD_L - Y_W, top: PAD_T, right: PAD_R, bottom: PAD_B - X_H } },
      plugins: {
        legend: { display: false },
        tooltip: { enabled: false },
        frame: {
          xMajor: p.x.ticks, yMajor: p.y.ticks,
          xMinor: p.x.log ? logMinor(p.x.min, p.x.max, p.x.ticks) : [],
          yMinor: p.y.log ? logMinor(p.y.min, p.y.max, p.y.ticks) : [],
          xFmt: p.x.fmt, yFmt: p.y.fmt,
          font: st.font, gapX: st.gapX, gapY: st.gapY, gapYPlain: st.gapYPlain,
          major: st.major, minor: st.minor
        }
      },
      scales: { x: axis(p.x, true), y: axis(p.y, false) }
    },
    plugins: [framePlugin]
  });

  const lab = document.createElement('div');
  lab.className = 'xlab';
  lab.style.left = ((x0 + x1) / 2) + 'px';
  lab.style.top = p.titleY + 'px';
  lab.style.fontSize = st.title + 'px';
  lab.innerHTML = p.title;
  page.appendChild(lab);
}

panels.forEach(buildPanel);
</script>
</body>
</html>
